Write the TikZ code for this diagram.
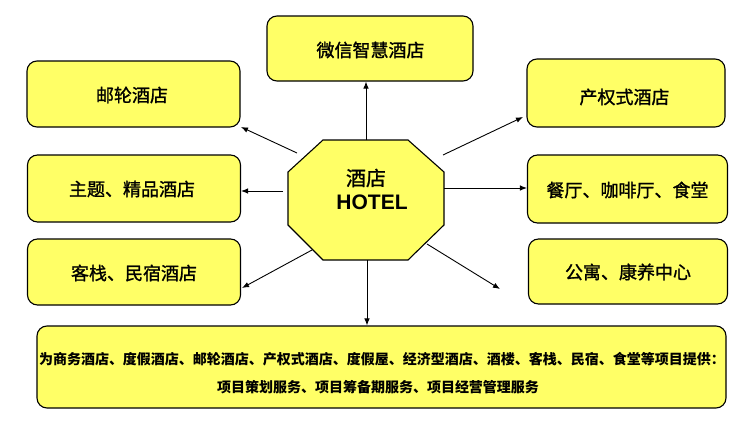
\documentclass[tikz,border=0pt]{standalone}
\usepackage{fontspec}
\setmainfont{Liberation Sans}
\newfontfamily\cjk{Noto Sans CJK SC}
\newfontfamily\cjkm[FakeBold=1.2]{Noto Sans CJK SC}
\usetikzlibrary{arrows.meta}
\definecolor{boxyellow}{RGB}{255,255,102}
\tikzset{
  ybox/.style={draw=black, line width=1.1pt, fill=boxyellow, rounded corners=10pt, inner sep=0pt},
  lbl/.style={font=\cjkm\fontsize{18}{20}\selectfont, inner sep=0pt},
  conn/.style={draw=black, line width=0.9pt, -{Latex[length=7pt,width=5.5pt]}},
}
\begin{document}
\begin{tikzpicture}[x=1pt,y=-1pt]
\useasboundingbox (0,0) rectangle (748,434);
% boxes
\node[ybox, minimum width=206pt, minimum height=65pt] (wx) at (370,48.5) {};
\node[ybox, minimum width=213pt, minimum height=66pt] (yl) at (133.5,94) {};
\node[ybox, minimum width=213pt, minimum height=67pt] (zt) at (134,188.5) {};
\node[ybox, minimum width=213pt, minimum height=66pt] (kz) at (134,272) {};
\node[ybox, minimum width=198pt, minimum height=68pt] (cq) at (626,93) {};
\node[ybox, minimum width=200pt, minimum height=68pt] (ct) at (627.5,189) {};
\node[ybox, minimum width=199pt, minimum height=65pt] (gy) at (628,271.5) {};
\node[ybox, minimum width=689pt, minimum height=82pt] (bt) at (381.5,367) {};
% labels
\node[lbl] (wxt) at (370.5,50) {微信智慧酒店};
\node[lbl] (ylt) at (132,95) {邮轮酒店};
\node[lbl] (ztt) at (132,189) {主题、精品酒店};
\node[lbl] (kzt) at (134,273) {客栈、民宿酒店};
\node[lbl] (cqt) at (624.5,97) {产权式酒店};
\node[lbl] (ctt) at (627.5,190) {餐厅、咖啡厅、食堂};
\node[lbl] (gyt) at (628,272) {公寓、康养中心};
\node[font=\cjk\bfseries\fontsize{14}{16}\selectfont, inner sep=0pt] (b1) at (382,359) {为商务酒店、度假酒店、邮轮酒店、产权式酒店、度假屋、经济型酒店、酒楼、客栈、民宿、食堂等项目提供：};
\node[font=\cjk\bfseries\fontsize{14}{16}\selectfont, inner sep=0pt] (b2) at (378,387) {项目策划服务、项目筹备期服务、项目经营管理服务};
% octagon
\draw[line width=1.1pt, fill=boxyellow] (323,140) -- (408,140) -- (444,172) -- (444,225) -- (408,260) -- (323,260) -- (288,225) -- (288,172) -- cycle;
\node[font=\cjkm\fontsize{20}{22}\selectfont, inner sep=0pt] (h1) at (366,178) {酒店};
\node[font=\bfseries\fontsize{21}{23}\selectfont, inner sep=0pt] (h2) at (372,202) {HOTEL};
% connector starts
\coordinate (sUp) at (366,140);
\coordinate (sYl) at (297,153);
\coordinate (sZt) at (283,191);
\coordinate (sKz) at (312,250);
\coordinate (sDn) at (367,260);
\coordinate (sCq) at (443,155);
\coordinate (sCt) at (444,188);
\coordinate (sGy) at (427,244);
\coordinate (eGy) at (500,289);
% connectors
\draw[conn] (sUp) -- (wx.south -| sUp);
\draw[conn] (sYl) -- (241,127);
\draw[conn] (sZt) -- (zt.east |- sZt);
\draw[conn] (sKz) -- (242,288);
\draw[conn] (sDn) -- (bt.north -| sDn);
\draw[conn] (sCq) -- (523,117);
\draw[conn] (sCt) -- (ct.west |- sCt);
\draw[conn] (sGy) -- (eGy);
\end{tikzpicture}
\end{document}
